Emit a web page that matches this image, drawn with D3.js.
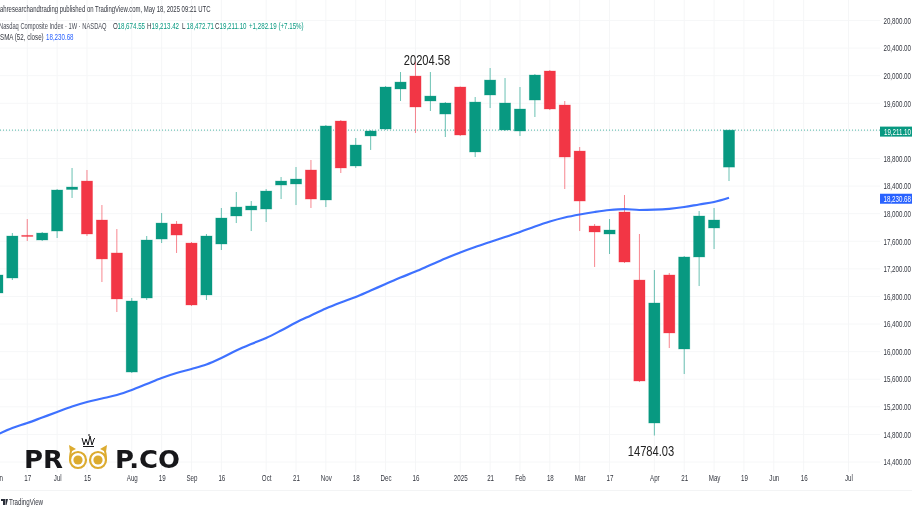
<!DOCTYPE html>
<html>
<head>
<meta charset="utf-8">
<script src="https://cdnjs.cloudflare.com/ajax/libs/d3/7.8.5/d3.min.js"></script>
<style>
html, body { margin: 0; padding: 0; background: #fff; overflow: hidden; }
svg { display: block; filter: blur(0.25px); }
text { font-family: "Liberation Sans", sans-serif; }
</style>
</head>
<body>
<svg id="chart" width="912" height="513"></svg>
<script>
// weekly candles, one entry per week
var opens = [16850, 17067, 17686, 17618, 17748, 18350, 18473, 17908, 17430, 15704,
	16777, 17632, 17850, 17574, 16821, 17560, 17966, 18053, 18067, 18415,
	18430, 18633, 18198, 19343, 18691, 19126, 19227, 19807, 19995, 19633,
	19444, 19836, 18894, 19720, 19213, 19198, 19647, 20068, 19575, 18908,
	17821, 17705, 18024, 17038, 14965, 17111, 16038, 17372, 17792, 18674.55]
var highs = [17154, 17719, 17922, 17734, 18357, 18662, 18633, 18125, 17777, 16777,
	17676, 18009, 17893, 17589, 17705, 18082, 18314, 18183, 18357, 18531,
	18676, 18778, 19285, 19357, 19097, 19213, 19850, 20053, 20204.58, 20053,
	19618, 19843, 19691, 20111, 19966, 19836, 20024, 20082, 19633, 18966,
	17850, 17922, 18270, 17705, 17183, 17140, 17386, 18038, 18082, 19213.42]
var lows = [16806, 17038, 17603, 17603, 17647, 18227, 17676, 17009, 16574, 15690,
	16748, 17574, 17430, 16661, 16748, 17473, 17864, 17748, 17879, 18212,
	18125, 18082, 18096, 18589, 18662, 18923, 19213, 19633, 19169, 19488,
	19111, 19126, 18821, 19531, 19198, 19126, 19401, 19502, 18357, 17748,
	17227, 17415, 17285, 15559, 14784.03, 16052, 15675, 16951, 17487, 18472.71]
var closes = [17111, 17676, 17669, 17719, 18343, 18386, 17705, 17343, 16763, 16734,
	17618, 17864, 17690, 16676, 17676, 17937, 18096, 18111, 18328, 18473,
	18502, 18212, 19271, 18662, 18995, 19198, 19836, 19908, 19546, 19705,
	19604, 19140, 19618, 19937, 19604, 19517, 20010, 19517, 18821, 18183,
	17734, 17763, 17299, 15574, 16705, 16270, 17372, 17966, 17908, 19211.10]
var sma52 = [14798, 14893, 14965, 15045, 15125, 15204, 15270, 15320, 15371, 15444,
	15531, 15618, 15690, 15748, 15813, 15907, 16016, 16110, 16197, 16306,
	16422, 16524, 16625, 16712, 16792, 16886, 16980, 17074, 17161, 17256,
	17350, 17437, 17516, 17589, 17661, 17734, 17814, 17886, 17944, 17988,
	18024, 18053, 18067, 18053, 18057, 18070, 18096, 18133, 18169, 18230.68]

var price_ticks = [14400, 14800, 15200, 15600, 16000, 16400, 16800, 17200, 17600,
	18000, 18400, 18800, 19600, 20000, 20400, 20800]
var week_ticks = [0, 2, 4, 6, 9, 11, 13, 15, 18, 20, 22, 24, 26, 28, 31, 33, 35, 37, 39, 41, 44, 46, 48, 50, 52, 54, 57]
var week_labels = ['Jun', '17', 'Jul', '15', 'Aug', '19', 'Sep', '16', 'Oct', '21', 'Nov', '18', 'Dec', '16',
	'2025', '21', 'Feb', '18', 'Mar', '17', 'Apr', '21', 'May', '19', 'Jun', '16', 'Jul']

var last = closes.length - 1
var color_up = '#089981', color_down = '#f23645', color_sma = '#2962ff', color_text = '#33363f'
var fmt = d3.format(',.2f')
var SQUEEZE = 0.72

var svg = d3.select('#chart')
var x = d3.scaleLinear().domain([0, 49]).range([-2.6, 729])
var y = d3.scaleLinear().domain([14400, 20800]).range([462, 20.5])
var plot_right = 880, plot_bottom = 472

//the reference is squeezed sideways, so all its text is too
function narrow_text(px, py, size, fill, str, anchor, squeeze)
{
	return svg.append('text')
		.attr('transform', 'translate(' + px + ',' + py + ') scale(' + (squeeze || SQUEEZE) + ',1)')
		.attr('font-size', size)
		.attr('fill', fill)
		.attr('text-anchor', anchor || 'start')
		.text(str)
}

//grid
svg.append('g').selectAll('line').data(price_ticks.concat([19200])).enter().append('line')
	.attr('x1', 0).attr('x2', plot_right)
	.attr('y1', function(d){return y(d)}).attr('y2', function(d){return y(d)})
	.attr('stroke', '#f6f7f8')
svg.append('g').selectAll('line').data(week_ticks).enter().append('line')
	.attr('x1', function(d){return x(d)}).attr('x2', function(d){return x(d)})
	.attr('y1', 0).attr('y2', plot_bottom)
	.attr('stroke', '#f5f6f7')
svg.append('line').attr('x1', 0).attr('x2', 912).attr('y1', 490.5).attr('y2', 490.5).attr('stroke', '#f3f4f5')

//last price line
svg.append('line')
	.attr('x1', 0).attr('x2', plot_right)
	.attr('y1', y(closes[last])).attr('y2', y(closes[last]))
	.attr('stroke', color_up).attr('stroke-dasharray', '1 2').attr('opacity', 0.7)

//candles
var candles = svg.append('g').selectAll('g').data(d3.range(opens.length)).enter().append('g')
	.attr('fill', function(i){return closes[i] >= opens[i] ? color_up : color_down})
	.attr('stroke', function(i){return closes[i] >= opens[i] ? color_up : color_down})
candles.append('line')
	.attr('x1', function(i){return x(i)}).attr('x2', function(i){return x(i)})
	.attr('y1', function(i){return y(highs[i])}).attr('y2', function(i){return y(lows[i])})
	.attr('stroke-width', 1).attr('opacity', 0.6)
candles.append('rect')
	.attr('x', function(i){return x(i) - 5.6})
	.attr('width', 11.2)
	.attr('y', function(i){return y(Math.max(opens[i], closes[i]))})
	.attr('height', function(i){return Math.max(1, Math.abs(y(opens[i]) - y(closes[i])))})
	.attr('stroke-width', 0.8).attr('stroke-opacity', 0.35)

//sma
svg.append('path')
	.datum(sma52)
	.attr('fill', 'none').attr('stroke', color_sma).attr('stroke-width', 2.2).attr('opacity', 0.9)
	.attr('d', d3.line().curve(d3.curveMonotoneX).x(function(d, i){return x(i)}).y(function(d){return y(d)}))

//axes
var price_axis = svg.append('g').attr('transform', 'translate(911,0)')
	.call(d3.axisLeft(y).tickValues(price_ticks).tickFormat(fmt).tickSize(0))
price_axis.select('.domain').remove()
price_axis.selectAll('text').attr('font-size', 8.6).attr('fill', color_text).attr('x', 0).attr('transform', 'scale(' + SQUEEZE + ',1)')

var time_axis = svg.append('g').attr('transform', 'translate(0,476)')
	.call(d3.axisBottom(x).tickValues(week_ticks).tickFormat(function(d, i){return week_labels[i]}).tickSize(0))
time_axis.select('.domain').remove()
time_axis.selectAll('text').attr('font-size', 8.6).attr('fill', color_text).attr('dy', 2).attr('transform', 'scale(' + SQUEEZE + ',1)')

//price tags
function price_tag(v, color, cy)
{
	svg.append('rect').attr('x', 880).attr('y', cy - 5).attr('width', 32).attr('height', 10).attr('fill', color)
	narrow_text(911, cy + 3, 8.6, '#fff', fmt(v), 'end')
}
price_tag(closes[last], color_up, y(closes[last]) + 1.5)
price_tag(sma52[last], color_sma, y(sma52[last]) + 1)

//annotations
narrow_text(427, 65, 15.5, '#222', d3.format('.2f')(highs[28]), 'middle')
narrow_text(651, 456, 15.5, '#222', d3.format('.2f')(lows[44]), 'middle')

//header
narrow_text(0, 12, 8.6, color_text, 'ahresearchandtrading published on TradingView.com, May 18, 2025 09:21 UTC', 'start', 0.695)
narrow_text(-1, 29, 8.6, '#4a4d57', 'Nasdaq Composite Index · 1W · NASDAQ', 'start', 0.67)
var ohlc_names = ['O', 'H', 'L', 'C'], ohlc_left = [113, 147, 182, 215]
var ohlc_values = [opens[last], highs[last], lows[last], closes[last]]
ohlc_names.forEach(function(name, i)
{
	narrow_text(ohlc_left[i], 29, 8.6, color_text, name)
	narrow_text(ohlc_left[i] + 4.5, 29, 8.6, color_up, fmt(ohlc_values[i]))
})
narrow_text(249, 29, 8.6, color_up, '+1,282.19 (+7.15%)')
narrow_text(0, 40, 8.6, color_text, 'SMA (52, close)')
narrow_text(46, 40, 8.6, color_sma, fmt(sma52[last]))

//watermark logo
var ink = '#17171a', gold = '#dcab2f'
svg.append('text').attr('x', 24).attr('y', 468).attr('font-size', 25).attr('font-weight', 'bold')
	.style('font-family', '"DejaVu Sans"').attr('fill', ink).attr('textLength', 39).attr('lengthAdjust', 'spacingAndGlyphs').text('PR')
svg.append('text').attr('x', 115).attr('y', 468).attr('font-size', 25).attr('font-weight', 'bold')
	.style('font-family', '"DejaVu Sans"').attr('fill', ink).attr('textLength', 65).attr('lengthAdjust', 'spacingAndGlyphs').text('P.CO')
var eyes = svg.append('g')
eyes.append('circle').attr('cx', 78).attr('cy', 460).attr('r', 8).attr('fill', 'none').attr('stroke', gold).attr('stroke-width', 2.2)
eyes.append('circle').attr('cx', 98).attr('cy', 460).attr('r', 8).attr('fill', 'none').attr('stroke', gold).attr('stroke-width', 2.2)
eyes.append('circle').attr('cx', 78).attr('cy', 460).attr('r', 4.6).attr('fill', gold)
eyes.append('circle').attr('cx', 98).attr('cy', 460).attr('r', 4.6).attr('fill', gold)
eyes.append('path').attr('fill', 'none').attr('stroke', gold).attr('stroke-width', 2)
	.attr('d', 'M70,460 Q70,452 72,449 M106,460 Q106,452 104,449')
eyes.append('path').attr('fill', gold).attr('d', 'M69,445 L76,449 L70,452 Z M107,445 L100,449 L106,452 Z')
svg.append('path').attr('fill', 'none').attr('stroke', ink).attr('stroke-width', 1)
	.attr('d', 'M82,438 L84,445 L86,439 L88,445 L90,436 L92,445 L94,439 L95,438 M83,446.5 L94,446.5 M89,436 V434')

//tradingview mark
svg.append('path').attr('fill', '#2a2e39').attr('d', 'M1,499 H5 V505 H3 V501 H1 Z M5.5,499 H8 L6.5,505 H5.5 Z')
narrow_text(9, 505, 8.6, color_text, 'TradingView')
</script>
</body>
</html>
